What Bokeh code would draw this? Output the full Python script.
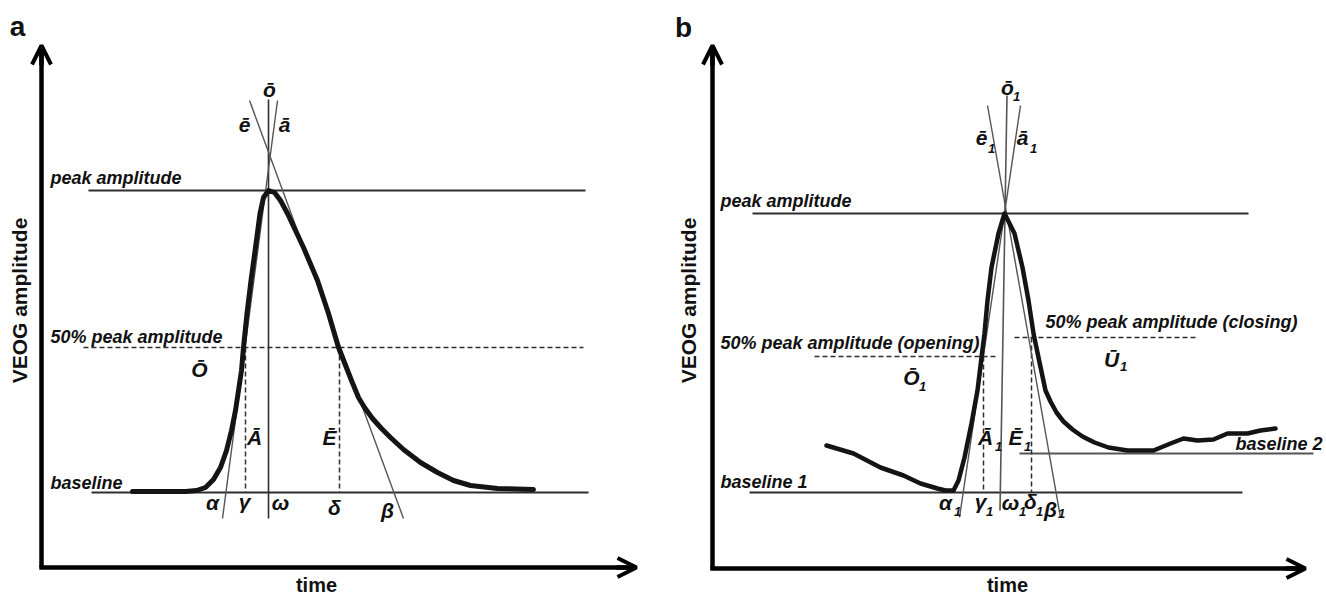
import math
from bokeh.plotting import figure
from bokeh.models import Range1d, Arrow, OpenHead, ColumnDataSource
from bokeh.layouts import row
from bokeh.embed import file_html
from bokeh.resources import INLINE
from bokeh.core.properties import value

FONT = value("Liberation Sans")

# ---------------- Panel a data (schematic: time [ms], amplitude [uV]) ----------------
a_time = [91, 144, 155, 164, 172, 179, 185, 190, 194, 197, 200, 202, 205.5, 209.5, 214, 218.5,
          222, 227, 233, 239, 246, 262, 276, 287, 297, 310, 317, 323, 331, 340, 349, 362,
          379, 396, 412, 429, 456, 492]
a_amp = [1, 1, 2, 5, 13, 25, 42, 62, 82, 102, 122, 145, 179, 212, 245, 279,
         295, 302, 300, 292, 279, 245, 212, 179, 145, 112, 95, 85, 74, 64, 55, 43,
         30, 20, 12, 7, 4, 3]
a_peak = 302
a_half = 145
a_base = 0
a_peak_span = [47, 544]
a_base_span = [50, 547]
a_half_span = [42, 542]
a_gamma = 204
a_delta = 298
a_tangent_rise = ([236, 181], [392, -26])
a_tangent_fall = ([208, 362], [392, -26])
a_omega_line = ([227, 227], [393, -26])

# ---------------- Panel b data ----------------
b_time = [114, 141, 168, 191, 208, 225, 233, 241, 246, 252, 259, 265, 269, 272, 275, 279,
          286, 292, 302, 310, 316, 321, 326, 333, 338, 344, 351, 360, 370, 382, 396, 415,
          441, 458, 471, 485, 501, 515, 535, 548, 563]
b_amp = [47, 39, 25, 17, 9, 4, 2, 2, 12, 35, 69, 102, 135, 159, 192, 225,
         259, 279, 259, 225, 192, 159, 135, 102, 91, 80, 71, 63, 56, 50, 45, 42,
         42, 49, 54, 52, 53, 59, 59, 62, 64]
b_peak = 279
b_base1 = 0
b_base2 = 39
b_half_open = 136
b_half_close = 155
b_peak_span = [40, 536]
b_base1_span = [37, 530]
b_base2_span = [307, 601]
b_open_span = [102, 283]
b_close_span = [302, 485]
b_gamma = 271
b_delta = 319
b_omega_line = ([294.5, 287.5], [397, -18])
b_tangent_rise = ([308, 247], [387, -25])
b_tangent_fall = ([275, 348], [387, -25])

# ---------------- labels ----------------
a_desc = dict(text=["peak amplitude", "50% peak amplitude", "baseline"],
              x=[9, 9, 9], y=[309, 150, 4])
a_sym = dict(text=["\u014C", "\u0100", "\u0112", "\u03B1", "\u03B3", "\u03C9", "\u03B4", "\u03B2",
                   "\u014D", "\u0113", "\u0101"],
             x=[158, 213, 288, 171, 203, 239, 293, 346, 228, 203, 243],
             y=[117, 49, 49, -16, -15, -16, -21, -24, 397, 362, 362])

b_desc = dict(text=["peak amplitude", "50% peak amplitude (opening)",
                    "50% peak amplitude (closing)", "baseline 1"],
              x=[8, 8, 333, 8], y=[286, 144, 165, 5])
b_desc_right = dict(text=["baseline 2"], x=[610], y=[43])
b_sym = dict(text=["\u014C", "\u016A", "\u0100", "\u0112", "\u03B1", "\u03B3", "\u03C9", "\u03B4",
                   "\u03B2", "\u014D", "\u0113", "\u0101"],
             x=[199, 399, 273, 303, 233, 268, 298, 318, 338, 295, 269, 310],
             y=[109, 127, 49, 49, -16, -15, -16, -15, -23, 399, 349, 349])
b_sub = dict(text=["1"] * 12,
             x=[210, 411, 286, 315, 245, 277, 310, 327, 349, 304, 279, 321],
             y=[102, 122, 42, 42, -23, -23, -23, -23, -25, 392, 340, 340])

CURVE = "#141414"
THIN = "#2e2e2e"
TAN = "#555555"


def base_fig(x0, x1):
    p = figure(width=663, height=594, x_range=Range1d(x0, x1), y_range=Range1d(-102, 492),
               output_backend="svg", toolbar_location=None, x_axis_type=None,
               y_axis_type=None, min_border=0, title=None)
    p.outline_line_color = None
    p.grid.visible = False
    p.background_fill_color = "white"
    p.border_fill_color = "white"
    return p


def axes(p, y0, xtip, ytip):
    p.segment(x0=[0], y0=[y0], x1=[0], y1=[ytip - 2], line_color="black", line_width=4.5)
    p.segment(x0=[-2.2], y0=[y0], x1=[xtip - 2], y1=[y0], line_color="black", line_width=4.5)
    p.add_layout(Arrow(end=OpenHead(size=19, line_width=4, line_color="black"),
                       x_start=0, y_start=ytip - 20, x_end=0, y_end=ytip,
                       line_color="black", line_width=4.5))
    p.add_layout(Arrow(end=OpenHead(size=19, line_width=4, line_color="black"),
                       x_start=xtip - 20, y_start=y0, x_end=xtip, y_end=y0,
                       line_color="black", line_width=4.5))


def texts(p, data, size, style, align="center", baseline="alphabetic", angle=0.0):
    src = ColumnDataSource(data)
    px = float(size.replace("px", ""))
    # the svg output sets alphabetic text about 0.3 em low; lift it back up
    yoff = -0.3 * px if baseline == "alphabetic" else 0
    p.text(x="x", y="y", text="text", source=src, text_font=FONT, text_font_size=size,
           text_font_style=style, text_align=align, text_baseline=baseline,
           text_color="#111111", angle=angle, y_offset=yoff)


# ================= Panel a =================
pa = base_fig(-41, 622)
axes(pa, -75, 595, 447)
pa.line(a_peak_span, [a_peak, a_peak], line_color=THIN, line_width=2)
pa.line(a_base_span, [a_base, a_base], line_color=THIN, line_width=2)
pa.line(a_half_span, [a_half, a_half], line_color=THIN, line_width=1.5, line_dash="5 3")
pa.segment(x0=[a_gamma, a_delta], y0=[a_half, a_half], x1=[a_gamma, a_delta], y1=[a_base, a_base],
           line_color=THIN, line_width=1.5, line_dash="5 3")
pa.line(*a_omega_line, line_color=THIN, line_width=1.6)
pa.line(*a_tangent_rise, line_color=TAN, line_width=1.4)
pa.line(*a_tangent_fall, line_color=TAN, line_width=1.4)
pa.line(a_time, a_amp, line_color=CURVE, line_width=5, line_join="round", line_cap="round")

texts(pa, dict(text=["a"], x=[-24], y=[466]), "28px", "bold", baseline="middle")
texts(pa, dict(text=["VEOG amplitude"], x=[-22], y=[192]), "21px", "bold",
      baseline="middle", angle=math.pi / 2)
texts(pa, dict(text=["time"], x=[275], y=[-98]), "20px", "bold")
texts(pa, a_desc, "18px", "bold italic", align="left")
texts(pa, a_sym, "21px", "bold italic")

# ================= Panel b =================
pb = base_fig(-49, 614)
axes(pb, -76, 593, 447)
pb.line(b_peak_span, [b_peak, b_peak], line_color=THIN, line_width=2)
pb.line(b_base1_span, [b_base1, b_base1], line_color=THIN, line_width=2)
pb.line(b_base2_span, [b_base2, b_base2], line_color="#555555", line_width=2)
pb.line(b_open_span, [b_half_open, b_half_open], line_color=THIN, line_width=1.5, line_dash="5 3")
pb.line(b_close_span, [b_half_close, b_half_close], line_color=THIN, line_width=1.5, line_dash="5 3")
pb.segment(x0=[b_gamma, b_delta], y0=[b_half_open, b_half_close], x1=[b_gamma, b_delta],
           y1=[b_base1, b_base1], line_color=THIN, line_width=1.5, line_dash="5 3")
pb.line(*b_omega_line, line_color=TAN, line_width=1.6)
pb.line(*b_tangent_rise, line_color=TAN, line_width=1.4)
pb.line(*b_tangent_fall, line_color=TAN, line_width=1.4)
pb.line(b_time, b_amp, line_color=CURVE, line_width=4.5, line_join="round", line_cap="round")

texts(pb, dict(text=["b"], x=[-29], y=[465]), "28px", "bold", baseline="middle")
texts(pb, dict(text=["VEOG amplitude"], x=[-24], y=[192]), "21px", "bold",
      baseline="middle", angle=math.pi / 2)
texts(pb, dict(text=["time"], x=[295], y=[-98]), "20px", "bold")
texts(pb, b_desc, "18px", "bold italic", align="left")
texts(pb, b_desc_right, "18px", "bold italic", align="right")
texts(pb, b_sym, "21px", "bold italic")
texts(pb, b_sub, "13px", "bold italic")

layout = row(pa, pb)
open("out.html", "w").write(file_html(layout, INLINE))
